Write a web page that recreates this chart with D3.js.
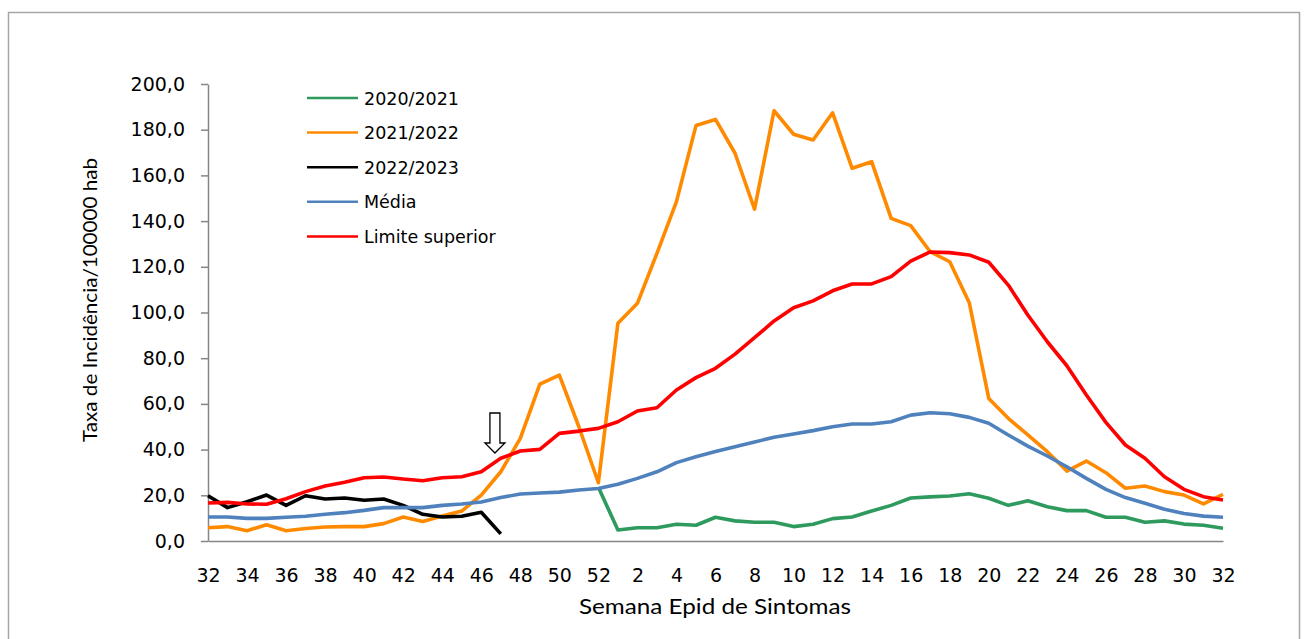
<!DOCTYPE html>
<html>
<head>
<meta charset="utf-8">
<script src="https://cdn.jsdelivr.net/npm/d3@7"></script>
<style>
  body { margin: 0; background: #fff; }
  .tick text { fill: #000; }
</style>
</head>
<body>
<div id="chart"></div>
<script>
// data
var weeks = [32, 33, 34, 35, 36, 37, 38, 39, 40, 41, 42, 43, 44, 45, 46, 47, 48, 49, 50, 51, 52,
  1, 2, 3, 4, 5, 6, 7, 8, 9, 10, 11, 12, 13, 14, 15, 16, 17, 18, 19, 20,
  21, 22, 23, 24, 25, 26, 27, 28, 29, 30, 31, 32];

var seriesNames = ["2020/2021", "2021/2022", "2022/2023", "Média", "Limite superior"];

var s2020 = [null, null, null, null, null, null, null, null, null, null, null, null, null, null, null, null, null, null, null, null,
  23.5, 4.8, 5.8, 5.8, 7.3, 6.9, 10.4, 8.8, 8.2, 8.2, 6.3, 7.3, 9.8, 10.5, 13.1, 15.6, 18.8, 19.3, 19.7, 20.7,
  18.7, 15.6, 17.6, 15.0, 13.3, 13.3, 10.4, 10.4, 8.2, 8.8, 7.4, 6.9, 5.6];

var s2021 = [5.8, 6.3, 4.5, 7.1, 4.5, 5.5, 6.1, 6.3, 6.3, 7.6, 10.5, 8.5, 10.9, 13.1, 20.1, 30.3, 44.9, 68.7, 72.6, 50.0,
  25.5, 95.3, 104.0, 125.9, 148.5, 181.8, 184.5, 169.7, 145.2, 188.3, 178.0, 175.5, 187.4, 163.1, 166.0, 141.2,
  138.0, 126.6, 122.2, 104.3, 62.4, 53.7, 46.4, 39.1, 30.6, 35.0, 29.9, 23.1, 24.1, 21.6, 20.1, 16.2, 20.4];

var s2022 = [19.8, 14.6, 17.2, 20.1, 15.6, 19.8, 18.4, 18.8, 17.8, 18.4, 15.6, 11.7, 10.5, 10.8, 12.6, 3.1];

var media = [10.5, 10.5, 9.9, 9.9, 10.4, 10.8, 11.7, 12.4, 13.4, 14.6, 14.6, 14.6, 15.6, 16.2, 17.1, 19.0, 20.6, 21.0,
  21.4, 22.3, 23.0, 24.8, 27.4, 30.3, 34.3, 36.9, 39.2, 41.3, 43.3, 45.4, 46.8, 48.3, 50.0, 51.2, 51.2, 52.2,
  55.1, 56.1, 55.7, 54.1, 51.5, 46.4, 41.5, 37.2, 32.5, 27.4, 22.6, 19.0, 16.5, 13.9, 12.0, 10.9, 10.4];

var limite = [16.6, 16.9, 16.2, 16.1, 18.5, 21.6, 24.1, 25.7, 27.7, 28.0, 27.1, 26.4, 27.7, 28.1, 30.3, 36.2, 39.4,
  40.1, 47.1, 48.1, 49.3, 52.2, 56.9, 58.3, 66.1, 71.5, 75.6, 81.8, 89.0, 96.3, 102.1, 105.1, 109.5, 112.5,
  112.5, 115.7, 122.5, 126.5, 126.2, 125.2, 122.0, 112.0, 98.9, 87.2, 76.7, 63.9, 51.9, 42.0, 36.2, 28.1,
  22.6, 19.4, 17.9];

var yTicks = [0, 20, 40, 60, 80, 100, 120, 140, 160, 180, 200];
var colors = ["#2e9a5e", "#ff8a00", "#000000", "#4f81bd", "#ff0000"];

// arrow marks the current week (between 46 and 47)
var arrowAt = 14.7;

//chart set ups
var svgWidth = 1308;
var svgHeight = 639;
var margin = { top: 84, left: 208 };
var chartWidth = 1015;
var chartHeight = 457;

var svg = d3.select('#chart')
  .append('svg')
  .attr('width', svgWidth)
  .attr('height', svgHeight);

// outer frame
svg.append('rect')
  .attr('x', 8.5)
  .attr('y', 12.5)
  .attr('width', 1291)
  .attr('height', 640)
  .attr('fill', 'none')
  .attr('stroke', '#a6a6a6')
  .attr('stroke-width', 1.5);

var chartGroup = svg.append('g')
  .attr('transform', `translate(${margin.left},${margin.top})`);

// scales
var xScale = d3.scaleLinear()
  .domain([0, weeks.length - 1])
  .range([0, chartWidth]);
var yScale = d3.scaleLinear()
  .domain([0, 200])
  .range([chartHeight, 0]);

var ptBR = d3.formatLocale({ decimal: ",", thousands: ".", grouping: [3], currency: ["R$", ""] });
var fmt = ptBR.format(".1f");

// axes
var leftAxis = d3.axisLeft(yScale)
  .tickValues(yTicks)
  .tickFormat(fmt)
  .tickSizeInner(7)
  .tickSizeOuter(0)
  .tickPadding(16);
var bottomAxis = d3.axisBottom(xScale)
  .tickValues(d3.range(0, weeks.length, 2))
  .tickFormat(i => weeks[i])
  .tickSize(0)
  .tickPadding(28);

var yAxis = chartGroup.append('g').call(leftAxis);
var xAxis = chartGroup.append('g')
  .attr('transform', `translate(0,${chartHeight})`)
  .call(bottomAxis);

[yAxis, xAxis].forEach(a => {
  a.select('.domain').attr('stroke', '#868686').attr('stroke-width', 1.5);
  a.selectAll('.tick line').attr('stroke', '#868686').attr('stroke-width', 1.5);
  a.selectAll('.tick text')
    .attr('font-family', 'DejaVu Sans, Verdana, sans-serif')
    .attr('font-size', '19px');
});

// lines
var line = d3.line()
  .defined(d => d != null)
  .x((d, i) => xScale(i))
  .y(d => yScale(d));

var allSeries = [s2020, s2021, s2022, media, limite];
chartGroup.selectAll('path.serie')
  .data(allSeries)
  .enter()
  .append('path')
  .attr('class', 'serie')
  .attr('d', d => line(d))
  .attr('fill', 'none')
  .attr('stroke', (d, i) => colors[i])
  .attr('stroke-width', 3.6)
  .attr('stroke-linejoin', 'round');

// hollow arrow
var ax = xScale(arrowAt);
var arrowPts = [[ax - 5, 413], [ax + 5, 413], [ax + 5, 443], [ax + 10, 443], [ax, 453],
  [ax - 10, 443], [ax - 5, 443]].map(p => [p[0], p[1] - margin.top]);
chartGroup.append('polygon')
  .attr('points', arrowPts.map(p => p.join(',')).join(' '))
  .attr('fill', '#fff')
  .attr('stroke', '#000')
  .attr('stroke-width', 1.3);

// legend
var legend = svg.append('g')
  .attr('transform', 'translate(307,98)');
var legendRows = legend.selectAll('g')
  .data(seriesNames)
  .enter()
  .append('g')
  .attr('transform', (d, i) => `translate(0,${i * 34.6})`);
legendRows.append('line')
  .attr('x1', 0).attr('x2', 51)
  .attr('y1', 0).attr('y2', 0)
  .attr('stroke', (d, i) => colors[i])
  .attr('stroke-width', 2.5);
legendRows.append('text')
  .attr('x', 57)
  .attr('y', 6.5)
  .attr('font-family', 'DejaVu Sans, Verdana, sans-serif')
  .attr('font-size', '17.5px')
  .text(d => d);

// axis titles
svg.append('text')
  .attr('transform', 'translate(97,300) rotate(-90)')
  .attr('text-anchor', 'middle')
  .attr('font-family', 'Lato, sans-serif')
  .attr('font-size', '20px')
  .attr('textLength', 284)
  .attr('lengthAdjust', 'spacingAndGlyphs')
  .text('Taxa de Incidência/100000 hab');
svg.append('text')
  .attr('x', 715)
  .attr('y', 614)
  .attr('text-anchor', 'middle')
  .attr('font-family', 'Lato, sans-serif')
  .attr('font-size', '21px')
  .attr('textLength', 272)
  .attr('lengthAdjust', 'spacingAndGlyphs')
  .text('Semana Epid de Sintomas');
</script>
</body>
</html>
